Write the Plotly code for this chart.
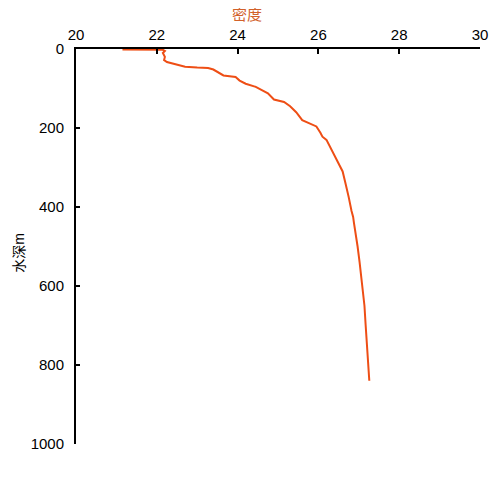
import plotly.graph_objects as go

density = [21.15, 22.0, 22.15, 22.2, 22.15, 22.2, 22.18, 22.25, 22.4, 22.5, 22.7, 23.0, 23.27,
           23.4, 23.55, 23.65, 23.95, 24.05, 24.2, 24.45, 24.6, 24.75, 24.9, 25.15, 25.3, 25.45,
           25.6, 25.8, 25.95, 26.05, 26.1, 26.2, 26.3, 26.35, 26.4, 26.5, 26.55, 26.6, 26.67,
           26.72, 26.75, 26.82, 26.86, 26.88, 26.93, 26.97, 27.02, 27.05, 27.1, 27.14, 27.17,
           27.2, 27.23, 27.26]
depth = [1, 1, 2, 5, 10, 20, 28, 33, 37, 40, 45, 47, 48,
         52, 62, 67, 71, 80, 88, 96, 104, 112, 128, 134, 145, 160,
         180, 190, 196, 212, 222, 230, 250, 258, 268, 290, 300, 310, 340,
         360, 375, 410, 425, 440, 470, 500, 540, 570, 610, 650, 700,
         750, 800, 840]

x_ticks = [20, 22, 24, 26, 28, 30]
y_ticks = [0, 200, 400, 600, 800, 1000]

FONT = "Liberation Sans, Arial, Noto Sans CJK SC, sans-serif"

fig = go.Figure()
fig.add_trace(go.Scatter(x=density, y=depth, mode="lines",
                         line=dict(color="#EE4E15", width=2), showlegend=False))

fig.update_layout(
    width=500, height=500,
    margin=dict(l=68, r=28, t=41, b=64),
    paper_bgcolor="white", plot_bgcolor="white",
    font=dict(family=FONT, size=15, color="black"),
    xaxis=dict(side="top", range=[20, 30], tickvals=x_ticks, showline=True,
               linecolor="black", linewidth=2, ticks="inside", ticklen=5,
               tickcolor="black", tickwidth=2, showgrid=False, zeroline=False,
               tickfont=dict(size=15), ticklabelstandoff=1),
    yaxis=dict(range=[1000, 0], tickvals=y_ticks, showline=True,
               linecolor="black", linewidth=2, ticks="inside", ticklen=4,
               tickcolor="black", tickwidth=2, showgrid=False, zeroline=False,
               tickfont=dict(size=15), ticklabelstandoff=7),
    annotations=[
        dict(text="密度", xref="paper", yref="paper", x=0.423, y=1.088,
             xanchor="center", yanchor="middle",
             showarrow=False, font=dict(size=15, color="#D2612A")),
        dict(text="水深m", xref="paper", yref="paper", x=-0.141, y=0.484,
             xanchor="center", yanchor="middle",
             showarrow=False, textangle=-90, font=dict(size=14, color="black")),
    ],
)

fig.write_html("out.html")
